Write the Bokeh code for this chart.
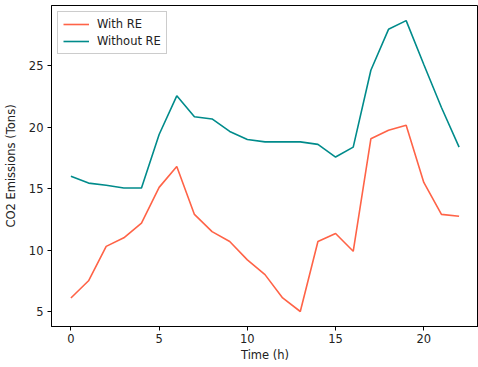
from bokeh.plotting import figure
from bokeh.models import FixedTicker, Range1d, Legend, LegendItem
from bokeh.embed import file_html
from bokeh.resources import INLINE

hours = list(range(23))
with_re = [6.1, 7.5, 10.3, 11.0, 12.2, 15.1, 16.8, 12.9, 11.5, 10.7, 9.2, 8.0, 6.1, 5.0,
           10.7, 11.35, 9.9, 19.05, 19.75, 20.15, 15.5, 12.9, 12.75]
without_re = [16.0, 15.45, 15.28, 15.05, 15.05, 19.4, 22.55, 20.85, 20.67, 19.65, 19.0, 18.8,
              18.8, 18.8, 18.6, 17.57, 18.38, 24.63, 27.96, 28.67, 25.1, 21.6, 18.38]
x_ticks = [0, 5, 10, 15, 20]
y_ticks = [5, 10, 15, 20, 25]

p = figure(frame_width=427, frame_height=321, output_backend="svg", toolbar_location=None,
           x_range=Range1d(-1.1, 23.1), y_range=Range1d(3.78, 29.9),
           min_border_left=42, min_border_right=0, min_border_top=5, min_border_bottom=34)
p.background_fill_color = "white"
p.border_fill_color = "white"
p.outline_line_color = "black"
p.outline_line_width = 1
p.xgrid.visible = False
p.ygrid.visible = False

r1 = p.line(hours, with_re, line_color="#FF6347", line_width=1.6)
r2 = p.line(hours, without_re, line_color="#008B8B", line_width=1.6)

for ax in (p.xaxis[0], p.yaxis[0]):
    ax.axis_line_color = "black"
    ax.major_tick_line_color = "black"
    ax.major_tick_out = 4
    ax.major_tick_in = 0
    ax.minor_tick_line_color = None
    ax.major_label_text_font = "DejaVu Sans"
    ax.major_label_text_font_size = "11.5px"
    ax.major_label_text_color = "#222222"
    ax.axis_label_text_font = "DejaVu Sans"
    ax.axis_label_text_font_size = "11.5px"
    ax.axis_label_text_font_style = "normal"
    ax.axis_label_text_color = "#222222"
p.xaxis.ticker = FixedTicker(ticks=x_ticks)
p.yaxis.ticker = FixedTicker(ticks=y_ticks)
p.xaxis.axis_label = "Time (h)"
p.yaxis.axis_label = "CO2 Emissions (Tons)"
p.xaxis.axis_label_standoff = 2
p.yaxis.axis_label_standoff = 8
p.xaxis.major_label_standoff = 3
p.yaxis.major_label_standoff = 4

legend = Legend(items=[LegendItem(label="With RE", renderers=[r1]),
                       LegendItem(label="Without RE", renderers=[r2])],
                location="top_left")
legend.label_text_font = "DejaVu Sans"
legend.label_text_font_size = "11.5px"
legend.label_text_color = "#222222"
legend.border_line_color = "#cccccc"
legend.border_line_alpha = 1
legend.background_fill_alpha = 0.8
legend.glyph_width = 26
legend.glyph_height = 14
legend.label_height = 14
legend.spacing = 3
legend.padding = 5
legend.margin = 6
legend.label_standoff = 8
p.add_layout(legend)

open("out.html", "w").write(file_html(p, INLINE))
